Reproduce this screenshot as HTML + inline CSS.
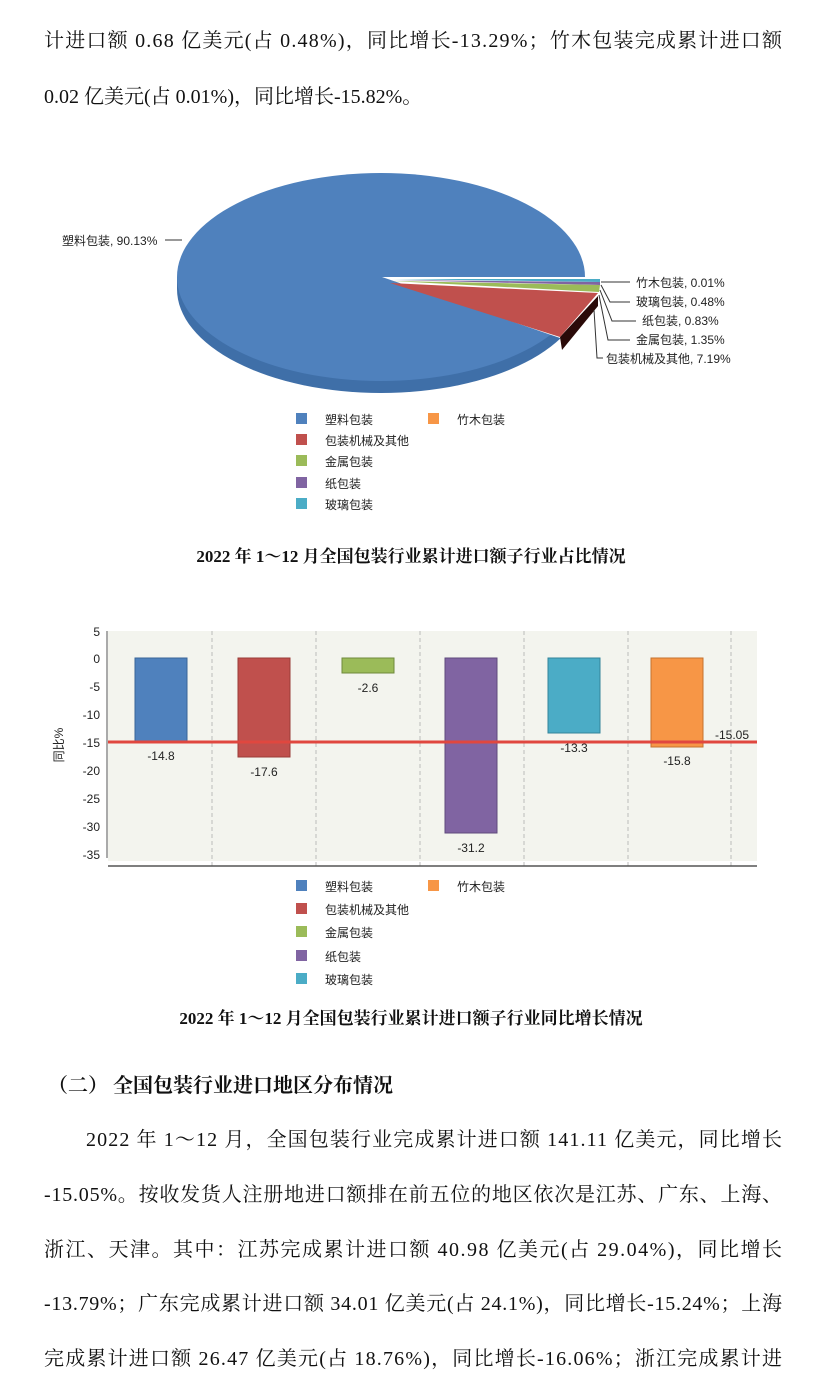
<!DOCTYPE html>
<html><head><meta charset="utf-8"><style>
body{margin:0;background:#fff;}
svg{display:block}
.s{font-family:"Liberation Serif","Noto Serif CJK SC",serif;font-size:20px;fill:#111}
.b{font-family:"Liberation Serif","Noto Serif CJK SC",serif;font-weight:bold;fill:#111}
.l{font-family:"Liberation Sans","Noto Sans CJK SC",sans-serif;font-size:12px;fill:#222}
</style></head><body>
<svg width="822" height="1376" xmlns="http://www.w3.org/2000/svg">
<rect width="822" height="1376" fill="#fff"/>
<text class="s" x="44" y="47" textLength="738" lengthAdjust="spacing">计进口额 0.68 亿美元(占 0.48%)，同比增长-13.29%；竹木包装完成累计进口额</text>
<text class="s" x="44" y="103">0.02 亿美元(占 0.01%)，同比增长-15.82%。</text>

<!-- pie -->
<ellipse cx="381" cy="289" rx="204" ry="104" fill="#3f6fa8"/>
<rect x="177" y="277" width="408" height="12" fill="#3f6fa8"/>
<ellipse cx="381" cy="277" rx="204" ry="104" fill="#4f81bd"/>
<polygon points="382,277 600,277 598,300 560,338" fill="#fff"/>
<polygon points="392,279 600,279 600,282" fill="#4bacc6"/>
<polygon points="392,280 600,282 600,285" fill="#8064a2"/>
<polygon points="392,281 600,285 599,292" fill="#9bbb59"/>
<polygon points="560,337 598,296 598,306 562,350" fill="#2a0a08"/>
<polygon points="390,283 598,293 560,337" fill="#c0504d"/>
<line x1="165" y1="240" x2="182" y2="240" stroke="#333"/>
<text class="l" x="62" y="245">塑料包装, 90.13%</text>
<polyline points="601,282 630,282" stroke="#333" fill="none"/>
<text class="l" x="636" y="287">竹木包装, 0.01%</text>
<polyline points="601,285 610,302 630,302" stroke="#333" fill="none"/>
<text class="l" x="636" y="306">玻璃包装, 0.48%</text>
<polyline points="600,290 612,321 636,321" stroke="#333" fill="none"/>
<text class="l" x="642" y="325">纸包装, 0.83%</text>
<polyline points="599,295 608,340 630,340" stroke="#333" fill="none"/>
<text class="l" x="636" y="344">金属包装, 1.35%</text>
<polyline points="594,310 597,358 603,358" stroke="#333" fill="none"/>
<text class="l" x="606" y="363">包装机械及其他, 7.19%</text>

<!-- pie legend -->
<g class="l">
<rect x="296" y="413" width="11" height="11" fill="#4f81bd"/><text x="325" y="424">塑料包装</text>
<rect x="428" y="413" width="11" height="11" fill="#f79646"/><text x="457" y="424">竹木包装</text>
<rect x="296" y="434" width="11" height="11" fill="#c0504d"/><text x="325" y="445">包装机械及其他</text>
<rect x="296" y="455" width="11" height="11" fill="#9bbb59"/><text x="325" y="466">金属包装</text>
<rect x="296" y="477" width="11" height="11" fill="#8064a2"/><text x="325" y="488">纸包装</text>
<rect x="296" y="498" width="11" height="11" fill="#4bacc6"/><text x="325" y="509">玻璃包装</text>
</g>
<text class="b" x="411" y="562" font-size="17" text-anchor="middle">2022 年 1～12 月全国包装行业累计进口额子行业占比情况</text>

<!-- bar chart -->
<rect x="108" y="631" width="649" height="230" fill="#f3f4ee"/>
<g stroke="#bbb" stroke-dasharray="4,3">
<line x1="212" y1="631" x2="212" y2="866"/><line x1="316" y1="631" x2="316" y2="866"/>
<line x1="420" y1="631" x2="420" y2="866"/><line x1="524" y1="631" x2="524" y2="866"/>
<line x1="628" y1="631" x2="628" y2="866"/><line x1="731" y1="631" x2="731" y2="866"/>
</g>
<line x1="107" y1="631" x2="107" y2="858" stroke="#555"/>
<line x1="108" y1="866" x2="757" y2="866" stroke="#555" stroke-width="1.5"/>
<g class="l" text-anchor="end" font-size="13">
<text x="100" y="636">5</text><text x="100" y="663">0</text><text x="100" y="691">-5</text>
<text x="100" y="719">-10</text><text x="100" y="747">-15</text><text x="100" y="775">-20</text>
<text x="100" y="803">-25</text><text x="100" y="831">-30</text><text x="100" y="859">-35</text>
</g>
<text class="l" font-size="11" transform="translate(63,745) rotate(-90)" text-anchor="middle">同比%</text>
<rect x="135" y="658" width="52" height="83" fill="#4f81bd" stroke="#3a6598"/>
<rect x="238" y="658" width="52" height="99" fill="#c0504d" stroke="#9a3b38"/>
<rect x="342" y="658" width="52" height="15" fill="#9bbb59" stroke="#6f8a3c"/>
<rect x="445" y="658" width="52" height="175" fill="#8064a2" stroke="#5f4a7c"/>
<rect x="548" y="658" width="52" height="75" fill="#4bacc6" stroke="#33849a"/>
<rect x="651" y="658" width="52" height="89" fill="#f79646" stroke="#c4722e"/>
<line x1="108" y1="742" x2="757" y2="742" stroke="#e0473f" stroke-width="3"/>
<g class="l" font-size="13" text-anchor="middle">
<text x="161" y="760">-14.8</text><text x="264" y="776">-17.6</text><text x="368" y="692">-2.6</text>
<text x="471" y="852">-31.2</text><text x="574" y="752">-13.3</text><text x="677" y="765">-15.8</text>
<text x="732" y="739">-15.05</text>
</g>
<g class="l">
<rect x="296" y="880" width="11" height="11" fill="#4f81bd"/><text x="325" y="891">塑料包装</text>
<rect x="428" y="880" width="11" height="11" fill="#f79646"/><text x="457" y="891">竹木包装</text>
<rect x="296" y="903" width="11" height="11" fill="#c0504d"/><text x="325" y="914">包装机械及其他</text>
<rect x="296" y="926" width="11" height="11" fill="#9bbb59"/><text x="325" y="937">金属包装</text>
<rect x="296" y="950" width="11" height="11" fill="#8064a2"/><text x="325" y="961">纸包装</text>
<rect x="296" y="973" width="11" height="11" fill="#4bacc6"/><text x="325" y="984">玻璃包装</text>
</g>
<text class="b" x="411" y="1024" font-size="17" text-anchor="middle">2022 年 1～12 月全国包装行业累计进口额子行业同比增长情况</text>

<text class="b" x="48" y="1092" font-size="20">（二） 全国包装行业进口地区分布情况</text>
<text class="s" x="86" y="1146" textLength="696" lengthAdjust="spacing">2022 年 1～12 月，全国包装行业完成累计进口额 141.11 亿美元，同比增长</text>
<text class="s" x="44" y="1201" textLength="738" lengthAdjust="spacing">-15.05%。按收发货人注册地进口额排在前五位的地区依次是江苏、广东、上海、</text>
<text class="s" x="44" y="1256" textLength="738" lengthAdjust="spacing">浙江、天津。其中：江苏完成累计进口额 40.98 亿美元(占 29.04%)，同比增长</text>
<text class="s" x="44" y="1310" textLength="738" lengthAdjust="spacing">-13.79%；广东完成累计进口额 34.01 亿美元(占 24.1%)，同比增长-15.24%；上海</text>
<text class="s" x="44" y="1365" textLength="738" lengthAdjust="spacing">完成累计进口额 26.47 亿美元(占 18.76%)，同比增长-16.06%；浙江完成累计进</text>
</svg>
</body></html>
